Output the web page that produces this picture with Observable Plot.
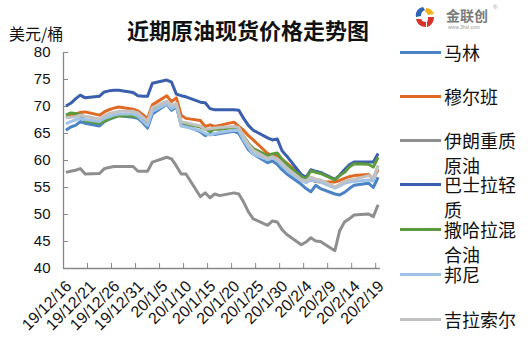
<!DOCTYPE html>
<html><head><meta charset="utf-8">
<script src="https://cdn.jsdelivr.net/npm/d3@7"></script>
<script src="https://cdn.jsdelivr.net/npm/@observablehq/plot@0.6"></script>
<style>
body{margin:0;background:#fff;font-family:"Liberation Sans","Noto Sans CJK SC",sans-serif;}
#wrap{position:relative;width:531px;height:354px;overflow:hidden;background:#fff}
#chart{position:absolute;left:0;top:0}
.title{position:absolute;left:0;width:496px;top:13px;text-align:center;font-size:22px;font-weight:bold;font-family:"Noto Sans CJK SC",sans-serif;color:#111;line-height:32px}
.ylab{position:absolute;left:9px;top:21px;font-size:16px;font-family:"Noto Sans CJK SC",sans-serif;color:#111;line-height:24px}
.ln{position:absolute;left:400px;width:41px;height:3px}
.lt{position:absolute;left:444px;font-size:18px;line-height:18px;height:18px;font-family:"Noto Sans CJK SC",sans-serif;color:#111;white-space:nowrap;display:block}
.logo{position:absolute;left:414px;top:5px}
.logo .brand{position:absolute;left:32px;top:2px;font-size:14px;font-weight:bold;color:#7a7a7a;font-family:"Noto Sans CJK SC",sans-serif;white-space:nowrap;line-height:16px}
.logo .url{position:absolute;left:34px;top:19px;font-size:5px;color:#999;white-space:nowrap}
.logo .reg{position:absolute;left:79px;top:-1px;font-size:6px;color:#999}
</style></head>
<body><div id="wrap"></div>
<script>
// ---- data ----
const dates = [
  "2019-12-16","2019-12-17","2019-12-18","2019-12-19","2019-12-20","2019-12-23","2019-12-24","2019-12-25","2019-12-26","2019-12-27","2019-12-30","2019-12-31",
  "2020-01-01","2020-01-02","2020-01-03","2020-01-06","2020-01-07","2020-01-08","2020-01-09","2020-01-10","2020-01-13","2020-01-14","2020-01-15","2020-01-16","2020-01-17","2020-01-20","2020-01-21","2020-01-22","2020-01-23","2020-01-24","2020-01-27","2020-01-28","2020-01-29","2020-01-30","2020-01-31",
  "2020-02-03","2020-02-04","2020-02-05","2020-02-06","2020-02-07","2020-02-10","2020-02-11","2020-02-12","2020-02-13","2020-02-14","2020-02-17","2020-02-18","2020-02-19"
];
const seriesNames = ["马林","穆尔班","伊朗重质原油","巴士拉轻质","撒哈拉混合油","邦尼","吉拉索尔"];
const marlin = [65.6,66.2,66.5,67.2,66.9,66.4,67.2,67.6,68.0,68.3,68.0,67.8,
  67.0,66.0,68.6,70.4,69.3,70.0,66.5,66.4,65.3,64.6,65.0,64.8,65.0,65.4,65.0,63.5,62.0,61.2,59.6,59.9,59.3,58.3,57.5,
  55.6,54.8,54.2,55.4,54.8,53.8,53.6,54.1,54.8,55.4,55.8,55.0,56.9];
const murban = [68.0,68.3,68.6,68.9,69.0,68.4,69.0,69.4,69.7,69.9,69.5,69.2,
  68.5,67.8,70.3,72.0,70.9,71.6,68.4,67.8,67.4,66.3,66.6,66.3,66.5,67.1,66.3,65.6,64.6,63.8,61.3,60.9,60.9,60.2,59.5,
  57.3,56.7,56.4,56.1,56.0,56.0,56.3,56.7,57.0,57.2,57.4,56.6,58.3];
const iranHeavy = [57.8,58.0,58.2,58.5,57.5,57.6,58.5,58.7,58.9,58.9,58.9,58.0,
  58.0,58.0,59.7,60.6,60.3,59.0,57.5,57.5,53.3,54.0,53.1,53.8,53.5,54.0,53.8,52.3,50.5,49.2,48.0,48.8,48.6,47.2,46.3,
  44.4,44.9,45.7,45.1,45.0,43.3,47.0,48.6,49.2,49.9,50.1,49.6,51.8];
const basrahLight = [70.1,70.6,71.4,72.1,71.6,71.9,72.7,72.9,73.0,73.0,72.6,72.0,
  71.9,71.9,74.3,74.9,74.5,72.3,72.0,71.8,70.8,70.7,69.6,69.4,69.4,69.4,69.3,67.8,66.5,65.6,64.2,63.8,64.0,61.8,60.8,
  57.4,56.9,58.3,58.0,57.8,56.5,57.3,58.3,59.2,59.7,59.7,59.7,61.3];
const saharanBlend = [68.4,68.8,68.7,68.5,67.3,66.9,67.3,67.7,68.0,68.3,68.2,68.0,
  67.5,67.0,69.5,70.8,70.0,70.3,67.0,66.8,66.2,65.8,65.4,65.8,65.8,66.1,66.0,64.5,63.2,62.2,60.9,61.2,61.4,60.2,59.3,
  57.0,56.6,58.1,57.8,57.6,56.4,57.2,57.8,58.8,59.4,59.3,58.8,60.6];
const bonny = [66.8,67.2,67.5,67.8,67.6,67.2,67.8,68.1,68.4,68.6,68.6,68.2,
  67.3,66.5,69.1,70.5,69.6,70.2,66.4,66.2,65.5,65.0,64.7,65.0,65.2,65.6,65.5,63.8,62.4,61.2,60.1,60.5,60.0,59.0,58.2,
  56.3,55.9,56.4,56.2,56.0,54.9,55.3,55.8,56.0,56.1,56.4,56.2,59.0];
const girassol = [67.9,68.0,68.1,68.4,68.2,67.7,68.3,68.7,68.9,69.1,69.1,68.8,
  68.0,67.3,69.8,71.0,70.2,70.6,67.2,67.0,66.4,65.8,65.9,66.0,66.1,66.3,66.1,64.5,63.0,61.9,60.4,60.7,60.3,59.5,58.6,
  56.5,56.2,56.9,56.6,56.4,55.1,55.6,56.1,56.4,56.5,57.2,56.8,59.1];
const tickDates = ["2019-12-16","2019-12-21","2019-12-26","2019-12-31","2020-01-05","2020-01-10","2020-01-15","2020-01-20","2020-01-25","2020-01-30","2020-02-04","2020-02-09","2020-02-14","2020-02-19"];
const tickLabels = ["19/12/16","19/12/21","19/12/26","19/12/31","20/1/5","20/1/10","20/1/15","20/1/20","20/1/25","20/1/30","20/2/4","20/2/9","20/2/14","20/2/19"];
const yTicks = [40,45,50,55,60,65,70,75,80];
const titleText = "近期原油现货价格走势图";
const unitText = "美元/桶";

// ---- build ----
const colors = ["#4a84c4","#e06a25","#8f8f8f","#3a5fae","#5c9a3b","#9fc2e6","#c2c2c2"];
const valuesBySeries = [marlin, murban, iranHeavy, basrahLight, saharanBlend, bonny, girassol];
const parse = d3.utcParse("%Y-%m-%d");
const rows = seriesNames.flatMap((name, k) => dates.map((d, i) => ({date: parse(d), value: valuesBySeries[k][i], name})));
const HALF = 12 * 3600 * 1000;
const tDates = tickDates.map(parse);
const labelMap = new Map(tDates.map((d, i) => [+d, tickLabels[i]]));
const tBounds = tDates.map(d => new Date(+d - HALF));
const x0 = new Date(+parse(dates[0]) - HALF);
const x1 = new Date(+parse(dates[dates.length - 1]) + HALF);
const axisColor = "#878787";

const chart = Plot.plot({
  width: 531, height: 354,
  marginLeft: 63, marginRight: 151, marginTop: 52, marginBottom: 86,
  style: {fontFamily: "Liberation Sans, Arial, sans-serif", color: "#111", background: "transparent"},
  x: {type: "utc", domain: [x0, x1]},
  y: {domain: [40, 80]},
  color: {domain: seriesNames, range: colors},
  marks: [
    Plot.ruleX([x0], {stroke: axisColor, strokeWidth: 1.3}),
    Plot.ruleY([40], {stroke: axisColor, strokeWidth: 1.3}),
    Plot.axisY(yTicks, {tickSize: 5, dx: 5, stroke: axisColor, tickFormat: () => "", label: null}),
    Plot.axisY(yTicks, {tickSize: 0, tickPadding: 13, fontSize: 15, label: null, tickFormat: d => String(d)}),
    Plot.axisX(tBounds, {tickSize: 5, dy: -5, stroke: axisColor, tickFormat: () => "", label: null}),
    Plot.axisX(tDates, {tickSize: 0, tickPadding: 15, dx: 3, tickRotate: -45, fontSize: 16, label: null, tickFormat: d => labelMap.get(+d)}),
    Plot.line(rows, {x: "date", y: "value", z: "name", stroke: "name", strokeWidth: 3, strokeLinejoin: "round", strokeLinecap: "butt"})
  ]
});
chart.id = "chart";
const wrap = document.getElementById("wrap");
wrap.appendChild(chart);

const title = document.createElement("div");
title.className = "title"; title.textContent = titleText; wrap.appendChild(title);
const unit = document.createElement("div");
unit.className = "ylab"; unit.textContent = unitText; wrap.appendChild(unit);

// legend: line + label, label wrapped at 4 characters as in the reference
const legendCenters = [52, 96, 140, 184, 229, 274, 319];
seriesNames.forEach((name, k) => {
  const c = legendCenters[k];
  const ln = document.createElement("div");
  ln.className = "ln"; ln.style.background = colors[k]; ln.style.top = (c - 1.5) + "px";
  wrap.appendChild(ln);
  const parts = [];
  for (let i = 0; i < name.length; i += 4) parts.push(name.slice(i, i + 4));
  parts.forEach((p, j) => {
    const t = document.createElement("span");
    t.className = "lt"; t.textContent = p; t.style.top = (c - 9 + j * 25) + "px";
    wrap.appendChild(t);
  });
});

const logo = document.createElement("div");
logo.className = "logo";
logo.innerHTML = `<svg width="22" height="24" viewBox="0 0 22 24">
  <path d="M9 2 C4 3 1 7 2 12 L7 11 C7 8 8 6 11 5 Z" fill="#2f63b5"/>
  <path d="M12 3 C16 3 19 6 20 9 L14 10 C13 8 12 7 11 7 Z" fill="#f2b21c"/>
  <path d="M2 14 C3 19 7 22 12 22 L12 17 C9 17 8 16 7 14 Z" fill="#d9312b"/>
  <path d="M14 12 L20 12 C20 17 17 21 13 22 L13 17 C14 16 14 14 14 12 Z" fill="#d9312b"/>
</svg><span class="brand">金联创</span><span class="url">www.3hsl.com</span><span class="reg">®</span>`;
wrap.appendChild(logo);
</script>
</body></html>
